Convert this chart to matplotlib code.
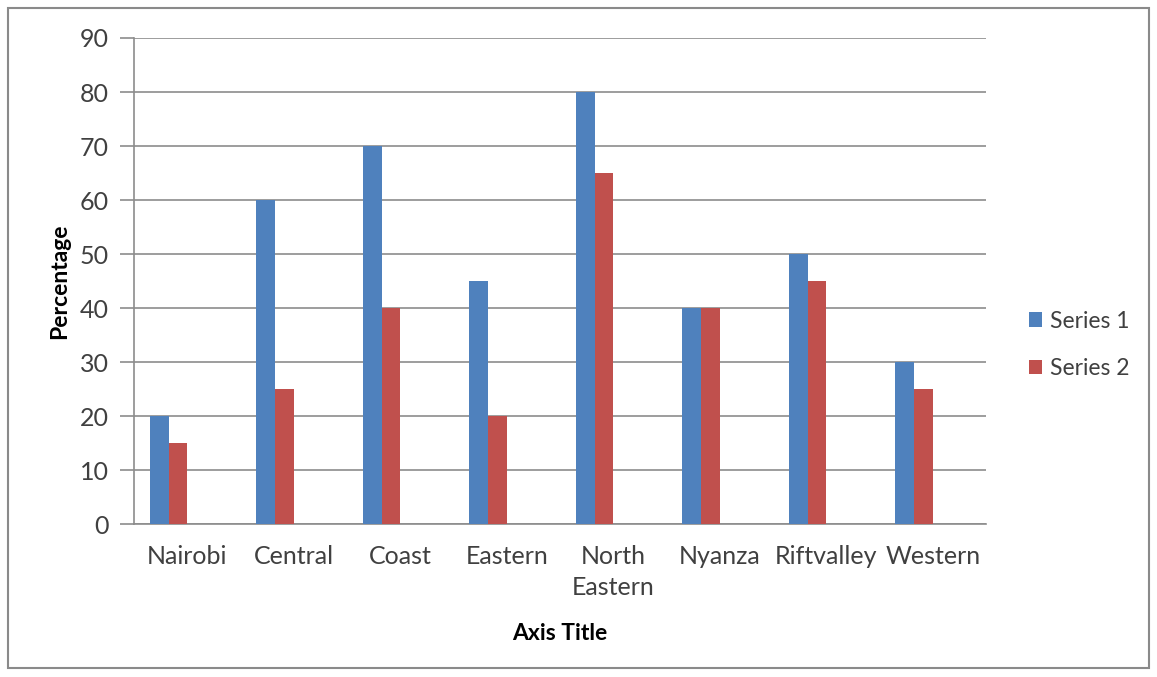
import numpy as np
import matplotlib.pyplot as plt
from matplotlib.patches import Rectangle

# Data
regions = ['Nairobi', 'Central', 'Coast', 'Eastern', 'North\nEastern',
           'Nyanza', 'Riftvalley', 'Western']
series_1 = [20, 60, 70, 45, 80, 40, 50, 30]
series_2 = [15, 25, 40, 20, 65, 40, 45, 25]
y_ticks = [0, 10, 20, 30, 40, 50, 60, 70, 80, 90]

plt.rcParams['font.family'] = ['Lato', 'DejaVu Sans']
text_col = '#404040'
grid_col = '#8c8c8c'

fig = plt.figure(figsize=(11.57, 6.77), dpi=100)
ax = fig.add_axes([134 / 1157, 1 - 524 / 677, (986 - 134) / 1157, (524 - 38) / 677])

x = np.arange(len(regions))
w = 0.1756
ax.bar(x - 1.5 * w, series_1, width=w, color='#4F81BD', label='Series 1', zorder=3)
ax.bar(x - 0.5 * w, series_2, width=w, color='#C0504D', label='Series 2', zorder=3)

ax.set_xlim(-0.5, len(regions) - 0.5)
ax.set_ylim(0, 90)
ax.set_yticks(y_ticks)
ax.set_xticks(x)
ax.set_xticklabels(regions, linespacing=1.45)
ax.tick_params(axis='y', length=10, color=grid_col, width=1.2, labelsize=18,
               labelcolor=text_col, pad=8)
ax.tick_params(axis='x', length=0, labelsize=18, labelcolor=text_col, pad=15)
for lbl in ax.get_xticklabels():
    lbl.set_verticalalignment('top')

ax.grid(axis='y', color=grid_col, linewidth=1.2, zorder=0)
for s in ['top', 'right']:
    ax.spines[s].set_visible(False)
ax.spines['left'].set_color(grid_col)
ax.spines['left'].set_linewidth(1.2)
ax.spines['bottom'].set_color(grid_col)
ax.spines['bottom'].set_linewidth(1.2)

ax.set_ylabel('Percentage', fontsize=16.5, fontweight='bold', color='black')
ax.yaxis.set_label_coords(-64 / 852, 0.5)
fig.text(560 / 1157, 1 - 633 / 677, 'Axis Title', fontsize=16.5, fontweight='bold',
         ha='center', va='center')

fig.legend(loc='center left', bbox_to_anchor=(1008 / 1157, 1 - 345 / 677),
           frameon=False, fontsize=16.5, handlelength=0.6, handleheight=0.6,
           handletextpad=0.35, labelspacing=1.15, labelcolor=text_col)

# outer chart border
fig.patches.append(Rectangle((8 / 1157, 9 / 677), 1141 / 1157, 660 / 677,
                             transform=fig.transFigure, fill=False,
                             edgecolor='#8a8a8a', linewidth=1.5))

fig.savefig('out.png', dpi=100)
